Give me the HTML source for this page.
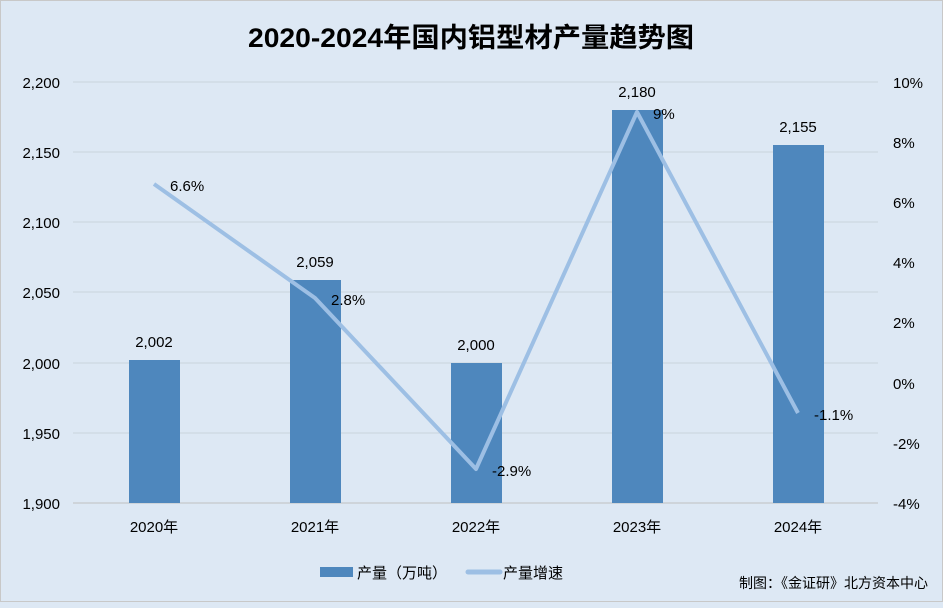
<!DOCTYPE html>
<html><head><meta charset="utf-8"><style>
body{margin:0;width:943px;height:603px;overflow:hidden;background:#dde8f4;}
svg text{font-family:"Liberation Sans","Noto Sans CJK SC",sans-serif;}
</style></head><body>
<svg width="943" height="603" xmlns="http://www.w3.org/2000/svg">
<rect x="0" y="0" width="943" height="603" fill="#dde8f4"/>
<rect x="0.5" y="0.5" width="942" height="601" fill="none" stroke="#c8c8c8"/>
<text x="471" y="47" font-size="27" font-weight="bold" text-anchor="middle" fill="#000" textLength="446" lengthAdjust="spacingAndGlyphs">2020-2024年国内铝型材产量趋势图</text>
<g stroke="#c9d3dd" stroke-width="1">
<line x1="73" x2="878" y1="82" y2="82"/><line x1="73" x2="878" y1="152" y2="152"/>
<line x1="73" x2="878" y1="222" y2="222"/><line x1="73" x2="878" y1="292" y2="292"/>
<line x1="73" x2="878" y1="363" y2="363"/><line x1="73" x2="878" y1="433" y2="433"/>
</g>
<line x1="73" x2="878" y1="503" y2="503" stroke="#bfbfbf"/>
<g font-size="15" fill="#000" text-anchor="end">
<text x="60" y="88">2,200</text><text x="60" y="158">2,150</text><text x="60" y="228">2,100</text>
<text x="60" y="298">2,050</text><text x="60" y="369">2,000</text><text x="60" y="439">1,950</text><text x="60" y="509">1,900</text>
</g>
<g font-size="15" fill="#000" text-anchor="start">
<text x="893" y="88">10%</text><text x="893" y="148">8%</text><text x="893" y="208">6%</text>
<text x="893" y="268">4%</text><text x="893" y="328">2%</text><text x="893" y="389">0%</text>
<text x="893" y="449">-2%</text><text x="893" y="509">-4%</text>
</g>
<g fill="#4e87bd">
<rect x="129" y="360" width="51" height="143"/>
<rect x="290" y="280" width="51" height="223"/>
<rect x="451" y="363" width="51" height="140"/>
<rect x="612" y="110" width="51" height="393"/>
<rect x="773" y="145" width="51" height="358"/>
</g>
<g font-size="15" fill="#000" text-anchor="middle">
<text x="154" y="347">2,002</text><text x="315" y="267">2,059</text><text x="476" y="350">2,000</text>
<text x="637" y="97">2,180</text><text x="798" y="132">2,155</text>
</g>
<polyline points="154,184 315,298 476,469 637,112 798,413" fill="none" stroke="#9dbfe4" stroke-width="4" stroke-linejoin="round"/>
<g font-size="15" fill="#000">
<text x="170" y="191">6.6%</text><text x="331" y="305">2.8%</text><text x="492" y="476">-2.9%</text>
<text x="653" y="119">9%</text><text x="814" y="420">-1.1%</text>
</g>
<g font-size="15" fill="#000" text-anchor="middle">
<text x="154" y="532">2020年</text><text x="315" y="532">2021年</text><text x="476" y="532">2022年</text>
<text x="637" y="532">2023年</text><text x="798" y="532">2024年</text>
</g>
<rect x="320" y="567" width="33" height="10" fill="#4e87bd"/>
<text x="357" y="578" font-size="15" fill="#000">产量（万吨）</text>
<line x1="468" x2="500" y1="572" y2="572" stroke="#9dbfe4" stroke-width="5" stroke-linecap="round"/>
<text x="503" y="578" font-size="15" fill="#000">产量增速</text>
<text x="928" y="588" font-size="14" fill="#000" text-anchor="end">制图：《金证研》北方资本中心</text>
</svg>
</body></html>
